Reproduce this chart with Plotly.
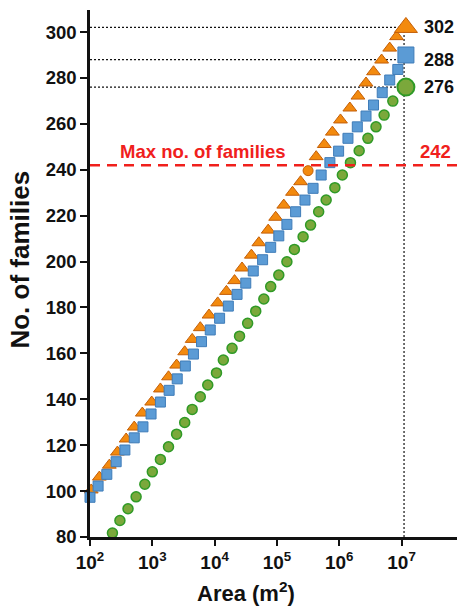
import plotly.graph_objects as go

# ---- data (x = log10 of area in m^2) ----
orange_exp = [2.02, 2.15, 2.31, 2.44, 2.58, 2.71, 2.84, 2.99, 3.13, 3.26, 3.39, 3.52, 3.64,
              3.77, 3.91, 4.05, 4.19, 4.32, 4.44, 4.59, 4.71, 4.86, 4.98, 5.11, 5.25, 5.38,
              5.50, 5.63, 5.76, 5.89, 6.02, 6.17, 6.30, 6.43, 6.55, 6.68, 6.81, 6.92]
orange_val = [100.5, 106.1, 111.3, 117.0, 122.7, 127.9, 134.0, 138.8, 144.5, 149.8, 154.9,
              160.7, 166.1, 171.2, 176.7, 182.0, 187.0, 191.7, 197.2, 202.8, 208.2, 213.7,
              219.3, 224.6, 230.2, 234.8, 239.6, 245.7, 251.0, 256.4, 261.7, 266.9, 272.1,
              277.8, 282.7, 287.8, 293.0, 298.0]

blue_exp = [2.00, 2.13, 2.27, 2.42, 2.56, 2.71, 2.85, 2.98, 3.13, 3.27, 3.40, 3.53, 3.66,
            3.79, 3.93, 4.08, 4.22, 4.36, 4.50, 4.62, 4.77, 4.90, 5.03, 5.16, 5.30, 5.45,
            5.58, 5.71, 5.85, 5.99, 6.14, 6.29, 6.43, 6.55, 6.69, 6.81, 6.94]
blue_val = [97.3, 102.2, 107.3, 112.8, 117.9, 123.2, 128.0, 133.6, 138.8, 143.9, 148.9,
            154.5, 159.7, 165.1, 170.2, 175.3, 180.6, 185.7, 190.6, 195.9, 200.8, 206.2,
            211.2, 216.2, 221.7, 226.8, 231.9, 237.7, 243.1, 248.1, 253.7, 258.7, 263.4,
            268.2, 273.6, 279.1, 283.7]

green_exp = [2.36, 2.48, 2.61, 2.74, 2.88, 3.00, 3.13, 3.26, 3.39, 3.52, 3.64, 3.77, 3.89,
             4.03, 4.14, 4.28, 4.40, 4.53, 4.66, 4.79, 4.90, 5.03, 5.16, 5.28, 5.42, 5.54,
             5.67, 5.79, 5.93, 6.05, 6.18, 6.32, 6.46, 6.59, 6.72, 6.86]
green_val = [81.7, 87.2, 92.3, 97.5, 103.0, 108.4, 113.8, 119.3, 124.8, 129.9, 135.6, 141.1,
             146.2, 151.5, 157.1, 162.2, 167.5, 173.1, 178.4, 183.7, 189.1, 194.1, 199.9,
             205.3, 210.8, 215.9, 221.7, 226.8, 232.2, 237.7, 243.1, 248.3, 253.7, 258.7,
             263.8, 269.9]

final_exp = 7.07              # labelled end points
final_vals = [302, 288, 276]  # orange, blue, green
guide_exp = 7.04              # vertical dotted guide
max_families = 242
orange_circle_index = 26

x_tick_exp = [2, 3, 4, 5, 6, 7]
y_ticks = [80, 100, 120, 140, 160, 180, 200, 220, 240, 260, 280, 300]

# ---- styles ----
FONT = "Liberation Sans, Arial, Helvetica, sans-serif"
OR_F, OR_L = "#F38A0E", "#C45F08"
BL_F, BL_L = "#5B9BD5", "#3F7CB8"
GR_F, GR_L = "#7BA83B", "#2F9A26"
RED = "#F0201C"
X_MAX_EXP = 7.89

def area(exps):
    return [10 ** e for e in exps]

fig = go.Figure()

# dotted guides (below markers)
guide_x = 10 ** guide_exp
for v in final_vals:
    fig.add_trace(go.Scatter(x=[100, guide_x], y=[v, v], mode="lines",
                             line=dict(color="#111", width=1.2, dash="2px,2px"),
                             hoverinfo="skip"))
fig.add_trace(go.Scatter(x=[guide_x, guide_x], y=[80, final_vals[0]], mode="lines",
                         line=dict(color="#111", width=1.2, dash="2px,2px"), hoverinfo="skip"))

# orange series
o_sym = ["triangle-up"] * len(orange_exp)
o_sym[orange_circle_index] = "circle"
o_size = [12] * len(orange_exp)
o_size[orange_circle_index] = 10
fig.add_trace(go.Scatter(x=area(orange_exp), y=orange_val, mode="markers", cliponaxis=False,
                         marker=dict(symbol=o_sym, size=o_size, color=OR_F, opacity=1,
                                     line=dict(color=OR_L, width=1))))
# blue series
fig.add_trace(go.Scatter(x=area(blue_exp), y=blue_val, mode="markers", cliponaxis=False,
                         marker=dict(symbol="square", size=10, color=BL_F, opacity=1,
                                     line=dict(color=BL_L, width=1))))
# green series
fig.add_trace(go.Scatter(x=area(green_exp), y=green_val, mode="markers", cliponaxis=False,
                         marker=dict(symbol="circle", size=10, color=GR_F, opacity=1,
                                     line=dict(color=GR_L, width=1.5))))

# big end markers
fx = 10 ** final_exp
fig.add_trace(go.Scatter(x=[fx], y=[final_vals[0]], mode="markers", cliponaxis=False,
                         marker=dict(symbol="triangle-up", size=20, color=OR_F, opacity=1,
                                     line=dict(color=OR_L, width=1))))
fig.add_trace(go.Scatter(x=[fx], y=[final_vals[1] + 2], mode="markers", cliponaxis=False,
                         marker=dict(symbol="square", size=16, color=BL_F, opacity=1,
                                     line=dict(color=BL_L, width=1))))
fig.add_trace(go.Scatter(x=[fx], y=[final_vals[2]], mode="markers", cliponaxis=False,
                         marker=dict(symbol="circle", size=17, color=GR_F, opacity=1,
                                     line=dict(color=GR_L, width=2))))

# red dashed max line (above markers)
fig.add_trace(go.Scatter(x=[100, 10 ** X_MAX_EXP], y=[max_families, max_families], mode="lines",
                         line=dict(color=RED, width=2.5, dash="10px,7px"),
                         cliponaxis=False, hoverinfo="skip"))

annotations = []
for v in final_vals:
    annotations.append(dict(x=7.33, y=v, xref="x", yref="y", text=f"<b>{v}</b>",
                            showarrow=False, xanchor="left", yanchor="middle",
                            font=dict(family=FONT, size=18, color="#111")))
annotations.append(dict(x=3.82, y=max_families + 6, xref="x", yref="y",
                        text="<b>Max no. of families</b>", showarrow=False,
                        xanchor="center", yanchor="middle",
                        font=dict(family=FONT, size=18.5, color=RED)))
annotations.append(dict(x=7.55, y=max_families + 6, xref="x", yref="y",
                        text=f"<b>{max_families}</b>", showarrow=False,
                        xanchor="center", yanchor="middle",
                        font=dict(family=FONT, size=18.5, color=RED)))
annotations.append(dict(x=0.425, y=-0.104, xref="paper", yref="paper",
                        text="<b>Area (m<sup>2</sup>)</b>", showarrow=False,
                        xanchor="center", yanchor="middle",
                        font=dict(family=FONT, size=22, color="#111")))
annotations.append(dict(x=-0.19, y=0.527, xref="paper", yref="paper",
                        text="<b>No. of families</b>", showarrow=False, textangle=-90,
                        xanchor="center", yanchor="middle",
                        font=dict(family=FONT, size=26, color="#111")))

fig.update_layout(
    width=459, height=606, showlegend=False,
    margin=dict(l=90, r=2, t=10, b=69),
    paper_bgcolor="white", plot_bgcolor="white",
    annotations=annotations,
    xaxis=dict(type="log", range=[2, X_MAX_EXP],
               tickvals=[10 ** e for e in x_tick_exp],
               ticktext=[f"<b>10<sup>{e}</sup></b>" for e in x_tick_exp],
               ticks="outside", ticklen=6, tickwidth=2, tickcolor="#111",
               showline=True, linewidth=2.5, linecolor="#111",
               showgrid=False, zeroline=False,
               tickfont=dict(family=FONT, size=19, color="#111")),
    yaxis=dict(range=[80, 309.6], tickvals=y_ticks,
               ticktext=[f"<b>{t}</b>" for t in y_ticks],
               ticks="outside", ticklen=7, tickwidth=2, tickcolor="#111",
               showline=True, linewidth=2.5, linecolor="#111",
               showgrid=False, zeroline=False,
               tickfont=dict(family=FONT, size=18.5, color="#111")),
)

fig.write_html("out.html", config={"displayModeBar": False},
               post_script="document.body.style.margin='0';document.body.style.overflow='hidden';")
